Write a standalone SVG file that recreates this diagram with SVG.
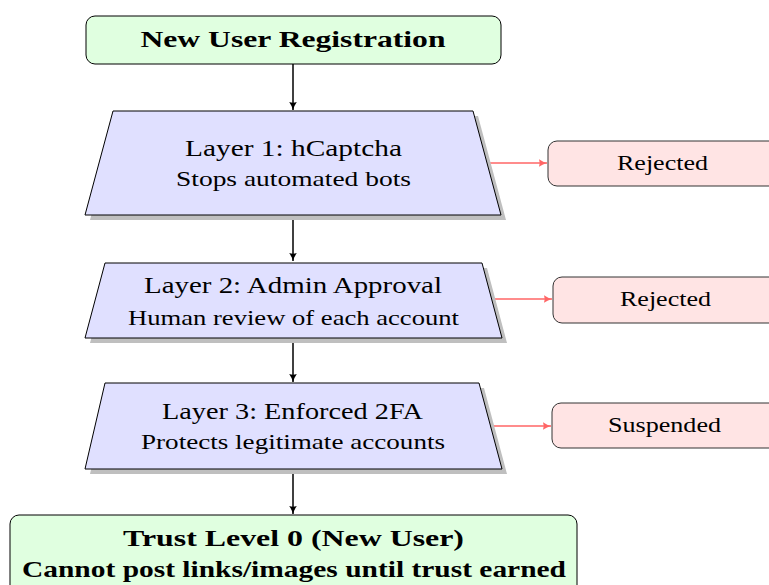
<svg xmlns="http://www.w3.org/2000/svg" width="769" height="585" viewBox="0 0 769 585">
  <defs>
    <marker id="arrow-black" markerWidth="10" markerHeight="10" refX="9" refY="5" orient="auto" markerUnits="userSpaceOnUse">
      <path d="M1,1.2 Q5,4 9,5 Q5,6 1,8.8 Q2.5,5 1,1.2 Z" fill="#000"/>
    </marker>
    <marker id="arrow-red" markerWidth="10" markerHeight="10" refX="9" refY="5" orient="auto" markerUnits="userSpaceOnUse">
      <path d="M1,1.2 Q5,4 9,5 Q5,6 1,8.8 Q2.5,5 1,1.2 Z" fill="#ff6666"/>
    </marker>
  </defs>
  <style>
    .start { fill: #e0ffe0; stroke: #000; stroke-width: 1; }
    .layer { fill: #e0e0ff; stroke: #000; stroke-width: 1; }
    .shadow { fill: #bfbfbf; stroke: none; }
    .reject { fill: #ffe4e4; stroke: #333; stroke-width: 1; }
    .flow { stroke: #000; stroke-width: 1.5; fill: none; }
    .deny { stroke: #ff6666; stroke-width: 1.5; fill: none; }
    text { font-family: Liberation Serif, serif; fill: #000; text-anchor: middle; }
    .bold { font-weight: bold; font-size: 24px; }
    .head { font-size: 23.5px; }
    .sub { font-size: 21px; }
    .lbl { font-size: 21px; }
  </style>

  <g id="connectors">
    <line class="flow" x1="293" y1="64" x2="293" y2="110" marker-end="url(#arrow-black)"/>
    <line class="flow" x1="293" y1="215" x2="293" y2="261" marker-end="url(#arrow-black)"/>
    <line class="flow" x1="293" y1="338" x2="293" y2="382" marker-end="url(#arrow-black)"/>
    <line class="flow" x1="293" y1="469" x2="293" y2="514" marker-end="url(#arrow-black)"/>
    <line class="deny" x1="487" y1="163" x2="547" y2="163" marker-end="url(#arrow-red)"/>
    <line class="deny" x1="493" y1="299" x2="552" y2="299" marker-end="url(#arrow-red)"/>
    <line class="deny" x1="490" y1="426" x2="551" y2="426" marker-end="url(#arrow-red)"/>
  </g>

  <g id="start">
    <rect class="start" x="86" y="16" width="415" height="48" rx="9"/>
    <text class="bold" x="293" y="47" textLength="305" lengthAdjust="spacingAndGlyphs">New User Registration</text>
  </g>

  <g id="layer1">
    <polygon class="shadow" points="118,116 478,116 506,220 90,220"/>
    <polygon class="layer" points="113,111 473,111 501,215 85,215"/>
    <text class="head" x="293.5" y="156" textLength="217" lengthAdjust="spacingAndGlyphs">Layer 1: hCaptcha</text>
    <text class="sub" x="293.5" y="186" textLength="235" lengthAdjust="spacingAndGlyphs">Stops automated bots</text>
  </g>

  <g id="layer2">
    <polygon class="shadow" points="110,268 487,268 507,343 90,343"/>
    <polygon class="layer" points="105,263 482,263 502,338 85,338"/>
    <text class="head" x="293" y="293" textLength="298" lengthAdjust="spacingAndGlyphs">Layer 2: Admin Approval</text>
    <text class="sub" x="293.5" y="325" textLength="331" lengthAdjust="spacingAndGlyphs">Human review of each account</text>
  </g>

  <g id="layer3">
    <polygon class="shadow" points="110,388 484,388 507,474 90,474"/>
    <polygon class="layer" points="105,383 479,383 502,469 85,469"/>
    <text class="head" x="292.5" y="419" textLength="261" lengthAdjust="spacingAndGlyphs">Layer 3: Enforced 2FA</text>
    <text class="sub" x="293" y="449" textLength="304" lengthAdjust="spacingAndGlyphs">Protects legitimate accounts</text>
  </g>

  <g id="reject1">
    <rect class="reject" x="548" y="141" width="240" height="45" rx="9"/>
    <text class="lbl" x="662.5" y="170" textLength="91" lengthAdjust="spacingAndGlyphs">Rejected</text>
  </g>

  <g id="reject2">
    <rect class="reject" x="553" y="277" width="240" height="46" rx="9"/>
    <text class="lbl" x="665.5" y="306" textLength="91" lengthAdjust="spacingAndGlyphs">Rejected</text>
  </g>

  <g id="suspend3">
    <rect class="reject" x="552" y="403" width="240" height="45" rx="9"/>
    <text class="lbl" x="664.5" y="432" textLength="113" lengthAdjust="spacingAndGlyphs">Suspended</text>
  </g>

  <g id="trust0">
    <rect class="start" x="10" y="515" width="567" height="90" rx="9"/>
    <text class="bold" x="293.5" y="546" textLength="341" lengthAdjust="spacingAndGlyphs">Trust Level 0 (New User)</text>
    <text class="bold" x="294" y="577" textLength="544" lengthAdjust="spacingAndGlyphs">Cannot post links/images until trust earned</text>
  </g>
</svg>
